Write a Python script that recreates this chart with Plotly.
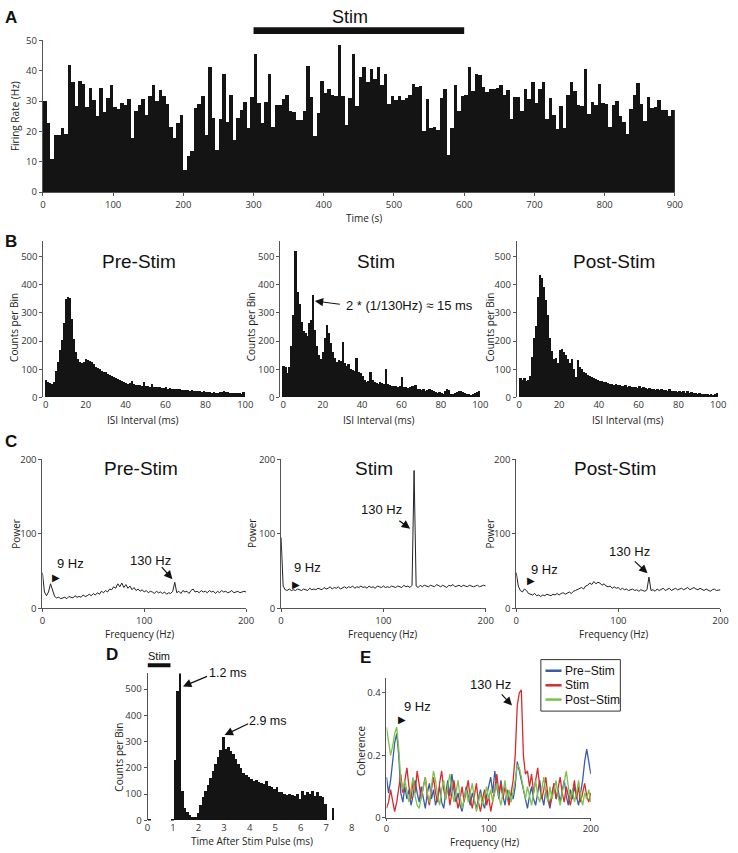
import plotly.graph_objects as go

W, H = 738, 853
def fx(px): return px / W
def fy(py): return 1 - py / H

# ---------------- DATA ----------------
# Panel A: firing rate (Hz) in 5 s bins, 0-900 s
rate_bin_s = 5
firing_rate = [
    30.0, 22.7, 10.8, 18.6, 18.6, 21.0, 19.0, 41.8, 36.0, 28.4,
    36.4, 35.4, 28.0, 34.2, 30.3, 25.0, 34.2, 26.2, 31.0, 35.1,
    27.9, 27.4, 29.2, 28.6, 30.6, 17.8, 26.5, 28.6, 30.6, 25.4,
    31.6, 35.1, 29.9, 33.4, 31.6, 28.8, 21.4, 17.6, 22.5, 25.4,
    7.1, 11.8, 13.5, 27.5, 28.8, 31.6, 18.6, 41.0, 24.3, 13.8,
    24.1, 38.9, 23.0, 32.0, 17.0, 24.3, 26.9, 29.4, 21.0, 31.2,
    45.4, 29.2, 22.5, 29.7, 38.9, 21.3, 28.6, 28.6, 30.6, 32.0,
    26.5, 26.2, 23.6, 23.6, 26.7, 41.4, 31.2, 18.5, 25.8, 36.6,
    32.4, 34.0, 31.9, 31.5, 48.3, 31.6, 22.1, 30.8, 45.4, 28.4,
    37.8, 41.0, 36.0, 40.5, 37.0, 41.0, 35.3, 38.9, 28.8, 31.6,
    30.2, 31.6, 30.2, 31.0, 32.0, 35.6, 34.5, 34.9, 20.0, 30.6,
    21.0, 21.3, 20.2, 31.0, 33.8, 12.1, 21.0, 35.1, 26.7, 31.6,
    32.0, 41.0, 33.2, 38.9, 38.3, 34.6, 32.7, 34.0, 33.8, 34.2,
    35.1, 32.0, 33.5, 23.8, 31.3, 31.3, 26.7, 33.8, 30.6, 36.2,
    29.2, 33.8, 36.2, 24.1, 30.8, 25.4, 20.8, 28.1, 21.0, 31.9,
    36.2, 33.2, 28.6, 28.4, 40.5, 25.6, 29.5, 28.6, 35.6, 29.2,
    28.8, 21.4, 28.6, 30.0, 25.0, 23.0, 19.1, 27.2, 32.0, 35.7,
    28.8, 23.2, 31.3, 27.5, 27.8, 30.2, 27.0, 27.0, 24.8, 27.0,
]

# Panel B: ISI histograms, 1 ms bins 0-100 ms
isi_pre = [
    60, 52, 50, 47, 55, 92, 125, 168, 202, 262,
    348, 355, 352, 275, 205, 160, 135, 126, 122, 124,
    136, 133, 128, 124, 118, 108, 104, 100, 94, 90,
    88, 82, 78, 76, 70, 68, 64, 60, 56, 54,
    50, 48, 50, 58, 46, 44, 42, 44, 40, 54,
    40, 38, 37, 46, 36, 35, 34, 36, 33, 32,
    34, 30, 31, 29, 30, 28, 27, 30, 26, 25,
    26, 24, 22, 24, 21, 22, 20, 22, 19, 20,
    18, 17, 19, 16, 17, 15, 16, 18, 17, 20,
    19, 17, 16, 15, 14, 15, 13, 14, 12, 18,
]
isi_stim = [
    110, 108, 85, 105, 180, 290, 518, 373, 330, 265,
    235, 228, 215, 262, 272, 360, 236, 180, 150, 135,
    160, 210, 255, 228, 190, 160, 140, 125, 132, 128,
    195, 120, 110, 118, 100, 95, 92, 138, 90, 85,
    75, 62, 55, 58, 88, 60, 55, 50, 48, 52,
    50, 45, 100, 45, 42, 40, 38, 40, 36, 38,
    72, 35, 34, 32, 36, 40, 38, 42, 30, 28,
    24, 30, 22, 26, 28, 25, 20, 18, 15, 18,
    14, 12, 22, 28, 25, 12, 10, 14, 18, 20,
    22, 18, 15, 12, 10, 9, 12, 15, 18, 22,
]
isi_post = [
    66, 62, 68, 58, 62, 75, 142, 210, 252, 355,
    432, 422, 390, 343, 290, 210, 163, 134, 140, 122,
    166, 171, 160, 150, 134, 122, 136, 100, 70, 132,
    105, 98, 90, 84, 80, 75, 72, 68, 64, 60,
    58, 56, 52, 54, 50, 48, 46, 44, 46, 42,
    44, 40, 38, 42, 36, 38, 35, 34, 36, 33,
    38, 32, 34, 31, 30, 32, 28, 30, 26, 28,
    25, 30, 24, 26, 22, 28, 21, 22, 20, 19,
    22, 18, 20, 16, 22, 15, 18, 14, 16, 12,
    13, 11, 12, 10, 12, 9, 10, 8, 10, 14,
]

# Panel C: power spectra, 0-200 Hz in 2 Hz steps
freq_c = list(range(0, 201, 2))
power_pre = [
    48, 22, 17, 22, 33, 24, 16, 14, 15, 13, 14, 15, 13, 16, 15, 14, 17, 15, 16, 15,
    18, 16, 17, 19, 17, 20, 18, 21, 19, 23, 21, 24, 22, 26, 25, 29, 27, 33, 29, 34,
    28, 32, 27, 30, 25, 28, 24, 26, 23, 25, 22, 24, 21, 23, 22, 20, 23, 21, 22, 20,
    22, 19, 21, 20, 23, 35, 21, 23, 20, 24, 22, 23, 20, 24, 26, 22, 23, 21, 24, 22,
    23, 21, 24, 22, 23, 20, 23, 21, 24, 22, 23, 21, 22, 24, 21, 22, 23, 21, 22, 23, 22,
]
power_stim = [
    95, 30, 25, 24, 26, 24, 25, 24, 26, 25, 24, 26, 25, 24, 27, 25, 26, 25, 27, 26,
    25, 28, 26, 27, 29, 26, 28, 27, 29, 26, 28, 29, 27, 29, 28, 30, 27, 29, 28, 30,
    28, 29, 27, 30, 28, 29, 27, 30, 29, 28, 30, 28, 29, 28, 30, 29, 28, 30, 29, 28,
    31, 29, 30, 28, 31, 185, 30, 28, 31, 29, 31, 30, 29, 31, 30, 29, 32, 30, 29, 31,
    30, 28, 31, 30, 32, 29, 30, 31, 29, 31, 30, 29, 31, 30, 29, 30, 31, 29, 30, 31, 30,
]
power_post = [
    48, 30, 24, 22, 26, 24, 20, 19, 18, 20, 17, 18, 16, 18, 17, 19, 18, 17, 19, 18,
    20, 18, 20, 21, 19, 21, 22, 20, 23, 24, 25, 27, 28, 26, 30, 31, 34, 32, 36, 33,
    35, 34, 31, 33, 30, 29, 30, 27, 29, 27, 28, 25, 27, 25, 26, 24, 25, 26, 24, 25,
    23, 25, 24, 23, 25, 42, 24, 25, 23, 26, 24, 25, 27, 24, 25, 27, 24, 26, 27, 25,
    26, 27, 25, 26, 28, 25, 27, 28, 26, 25, 27, 26, 24, 26, 25, 23, 25, 26, 24, 25, 25,
]

# Panel D: spike times after stim pulse, 0.1 ms bins
d_bin_ms = 0.1
counts_after_pulse = [
    3, 0, 0, 0, 0, 0, 0, 0, 0, 3,
    230, 490, 560, 110, 45, 30, 18, 12, 10, 25,
    58, 88, 112, 135, 160, 188, 215, 240, 268, 315,
    272, 280, 262, 250, 232, 215, 200, 180, 172, 165,
    155, 150, 152, 145, 142, 138, 148, 130, 125, 120,
    125, 108, 105, 100, 95, 98, 95, 92, 100, 80,
    110, 95, 108, 100, 110, 92, 108, 90, 88, 60,
    0, 0, 45, 0,
]

# Panel E: coherence, 0-200 Hz in 2 Hz steps
freq_e = list(range(0, 201, 2))
coh_pre = [
    0.13, 0.08, 0.12, 0.18, 0.24, 0.27, 0.20, 0.08, 0.05, 0.10, 0.06, 0.09, 0.04, 0.07, 0.12, 0.08, 0.05, 0.10, 0.06, 0.03,
    0.08, 0.11, 0.06, 0.09, 0.04, 0.07, 0.10, 0.05, 0.03, 0.08, 0.12, 0.07, 0.14, 0.09, 0.05, 0.08, 0.04, 0.02, 0.06, 0.10,
    0.07, 0.04, 0.08, 0.05, 0.03, 0.06, 0.09, 0.05, 0.03, 0.07, 0.10, 0.13, 0.08, 0.15, 0.10, 0.06, 0.12, 0.07, 0.04, 0.09,
    0.05, 0.08, 0.06, 0.10, 0.18, 0.15, 0.11, 0.08, 0.05, 0.03, 0.07, 0.10, 0.06, 0.04, 0.08, 0.12, 0.07, 0.04, 0.09, 0.06,
    0.03, 0.07, 0.11, 0.06, 0.09, 0.05, 0.08, 0.12, 0.07, 0.04, 0.09, 0.06, 0.10, 0.07, 0.04, 0.08, 0.12, 0.18, 0.22, 0.18, 0.14,
]
coh_stim = [
    0.03, 0.05, 0.09, 0.06, 0.02, 0.05, 0.10, 0.14, 0.08, 0.12, 0.16, 0.10, 0.06, 0.12, 0.08, 0.15, 0.11, 0.06, 0.10, 0.13,
    0.07, 0.04, 0.09, 0.13, 0.08, 0.05, 0.11, 0.15, 0.09, 0.06, 0.10, 0.04, 0.08, 0.12, 0.07, 0.03, 0.06, 0.10, 0.05, 0.08,
    0.12, 0.06, 0.03, 0.07, 0.11, 0.05, 0.02, 0.06, 0.09, 0.04, 0.07, 0.02, 0.05, 0.09, 0.14, 0.08, 0.11, 0.06, 0.10, 0.07,
    0.04, 0.08, 0.12, 0.20, 0.36, 0.40, 0.41, 0.20, 0.14, 0.15, 0.10, 0.14, 0.08, 0.12, 0.16, 0.10, 0.06, 0.09, 0.13, 0.07,
    0.04, 0.08, 0.11, 0.06, 0.09, 0.13, 0.08, 0.05, 0.10, 0.07, 0.04, 0.08, 0.12, 0.06, 0.10, 0.05, 0.08, 0.11, 0.07, 0.05, 0.08,
]
coh_post = [
    0.29, 0.25, 0.20, 0.23, 0.27, 0.29, 0.22, 0.12, 0.09, 0.12, 0.08, 0.05, 0.09, 0.13, 0.07, 0.04, 0.03, 0.06, 0.10, 0.13,
    0.08, 0.05, 0.10, 0.15, 0.12, 0.07, 0.04, 0.09, 0.12, 0.06, 0.10, 0.14, 0.09, 0.05, 0.08, 0.12, 0.07, 0.03, 0.06, 0.09,
    0.05, 0.08, 0.11, 0.06, 0.02, 0.05, 0.08, 0.04, 0.07, 0.10, 0.06, 0.09, 0.05, 0.08, 0.11, 0.07, 0.04, 0.08, 0.12, 0.06,
    0.09, 0.05, 0.08, 0.12, 0.17, 0.16, 0.13, 0.09, 0.06, 0.10, 0.07, 0.04, 0.08, 0.12, 0.07, 0.05, 0.09, 0.13, 0.08, 0.05,
    0.10, 0.06, 0.09, 0.12, 0.07, 0.04, 0.08, 0.11, 0.15, 0.10, 0.06, 0.09, 0.05, 0.08, 0.12, 0.07, 0.04, 0.08, 0.06, 0.09, 0.05,
]
coh_names = ["Pre\u2212Stim", "Stim", "Post\u2212Stim"]
coh_colors = ["#3b5ca8", "#d92b2b", "#7cc24c"]
panel_titles = ["Pre-Stim", "Stim", "Post-Stim"]

# ---------------- FIGURE ----------------
TXT = "Liberation Sans"
NUM = "Open Sans"
BAR = "#141414"
AXC = "#555555"
fig = go.Figure()

def sfx(i):
    return "" if i == 1 else str(i)

def bars(i, x, y, w):
    fig.add_trace(go.Bar(x=x, y=y, width=w, marker=dict(color=BAR, line=dict(width=0)),
                         xaxis="x" + sfx(i), yaxis="y" + sfx(i), showlegend=False, hoverinfo="skip"))

def line(i, x, y, color, width=1.0, name=None):
    fig.add_trace(go.Scatter(x=x, y=y, mode="lines", line=dict(color=color, width=width),
                             name=name, xaxis="x" + sfx(i), yaxis="y" + sfx(i), showlegend=False, hoverinfo="skip"))

# A
bars(1, [rate_bin_s * k + rate_bin_s / 2 for k in range(len(firing_rate))], firing_rate, rate_bin_s)
# B
for j, h in enumerate([isi_pre, isi_stim, isi_post]):
    bars(2 + j, [k + 0.5 for k in range(len(h))], h, 1)
# C
for j, p in enumerate([power_pre, power_stim, power_post]):
    line(5 + j, freq_c, p, "#222222", 1.0)
# D
bars(8, [d_bin_ms * k + d_bin_ms / 2 for k in range(len(counts_after_pulse))], counts_after_pulse, d_bin_ms)
# E
for c, nm, col in zip([coh_pre, coh_stim, coh_post], coh_names, coh_colors):
    line(9, freq_e, c, col, 1.3, nm)

tickfont = dict(family=NUM, size=9.5, color="#333333")

def xax(dom, rng, tv, showline=True, ticks="outside", anchor="y", tt=None, ticklen=3):
    d = dict(domain=[fx(dom[0]), fx(dom[1])], range=rng, tickvals=tv, showgrid=False, zeroline=False,
             showline=showline, linecolor=AXC, linewidth=1, ticks=ticks, ticklen=ticklen, tickcolor=AXC,
             tickfont=tickfont, anchor=anchor, fixedrange=True)
    if tt is not None:
        d["ticktext"] = tt
    return d

def yax(dom, rng, tv, anchor="x", tt=None):
    d = dict(domain=[fy(dom[1]), fy(dom[0])], range=rng, tickvals=tv, showgrid=False, zeroline=False,
             showline=True, linecolor=AXC, linewidth=1, ticks="outside", ticklen=3, tickcolor=AXC,
             tickfont=tickfont, anchor=anchor, fixedrange=True)
    if tt is not None:
        d["ticktext"] = tt
    return d

lay = {}
lay["xaxis"] = xax([40.5, 682], [0, 900], list(range(0, 901, 100)), anchor="y")
lay["yaxis"] = yax([34, 188], [0, 50], list(range(0, 51, 10)), anchor="x")
b_dom = [[41, 247], [281.5, 485.5], [521.5, 727]]
b_rng = [[-1.2, 100.5], [-1.5, 100.5], [-1.3, 100.5]]
for j in range(3):
    i = 2 + j
    lay["xaxis" + sfx(i)] = xax(b_dom[j], b_rng[j], list(range(0, 101, 20)), showline=False, ticks="", anchor="y" + sfx(i))
    lay["yaxis" + sfx(i)] = yax([238, 396.5], [0, 553], list(range(0, 501, 100)), anchor="x" + sfx(i))
c_dom = [[40, 246.7], [282.3, 490], [521, 728.3]]
for j in range(3):
    i = 5 + j
    lay["xaxis" + sfx(i)] = xax(c_dom[j], [0, 200], [0, 100, 200], anchor="y" + sfx(i))
    lay["yaxis" + sfx(i)] = yax([459.3, 610.7], [0, 200], [0, 100, 200], anchor="x" + sfx(i))
lay["xaxis8"] = xax([146.7, 354], [0, 8], list(range(0, 9)), showline=False, ticks="", anchor="y8")
lay["yaxis8"] = yax([676.7, 826], [0, 560], list(range(0, 501, 100)), anchor="x8")
lay["xaxis9"] = xax([389.3, 596.7], [0, 200], [0, 100, 200], anchor="y9", ticklen=2)
lay["yaxis9"] = yax([681.7, 823.3], [0, 0.447], [0, 0.2, 0.4], anchor="x9", tt=["0", "0.2", "0.4"])

anns = []
def ann(text, px, py, size=10, family=NUM, angle=0, xanchor="center", color="#222222"):
    anns.append(dict(text=text, x=fx(px), y=fy(py), xref="paper", yref="paper", showarrow=False,
                     xanchor=xanchor, yanchor="middle", textangle=angle,
                     font=dict(family=family, size=size, color=color)))

def arrow(tail, head):
    anns.append(dict(text="", x=fx(head[0]), y=fy(head[1]), xref="paper", yref="paper",
                     ax=tail[0] - head[0], ay=tail[1] - head[1], showarrow=True,
                     arrowhead=2, arrowsize=1.4, arrowwidth=1.2, arrowcolor="#111111", standoff=0))

def tri(px, py):
    ann("\u25B6", px, py, size=10, family="DejaVu Sans", color="#111111")

# panel letters
for L, px, py in [("A", 8, 11), ("B", 8, 238), ("C", 8, 441), ("D", 111, 658), ("E", 368, 661)]:
    ann("<b>%s</b>" % L, px, py, size=17, family=TXT, color="#111111")

# A texts
ann("Stim", 352, 10, size=18, family=TXT, color="#111111")
ann("Firing Rate (Hz)", 13, 111, size=10, angle=-90)
ann("Time (s)", 366, 214, size=10)

# B texts
b_title_x = [138.3, 378.3, 620]
b_xlab_x = [142, 382, 634]
b_ylab_x = [11, 252, 494]
for j in range(3):
    ann(panel_titles[j], b_title_x[j], 258, size=19, family=TXT, color="#111111")
    ann("ISI Interval (ms)", b_xlab_x[j], 419, size=10)
    ann("Counts per Bin", b_ylab_x[j], 325, size=10, angle=-90)
ann("2 * (1/130Hz) \u2248 15 ms", 346.5, 303, size=13, family=TXT, xanchor="left", color="#111111")
arrow((343, 302), (316.5, 298.5))

# C texts
c_title_x = [140, 376.7, 621.7]
c_xlab_x = [138.3, 385, 620]
c_ylab_x = [13, 253, 494]
for j in range(3):
    ann(panel_titles[j], c_title_x[j], 468.3, size=19, family=TXT, color="#111111")
    ann("Frequency (Hz)", c_xlab_x[j], 637, size=10)
    ann("Power", c_ylab_x[j], 535, size=10, angle=-90)
ann("9 Hz", 69, 565, size=13, family=TXT, color="#111111")
tri(54, 579)
ann("130 Hz", 149.7, 561.7, size=13, family=TXT, color="#111111")
arrow((160, 567.5), (172, 581))
ann("9 Hz", 309, 569.3, size=13, family=TXT, color="#111111")
tri(297.5, 586.3)
ann("130 Hz", 384.5, 510, size=13, family=TXT, color="#111111")
arrow((401, 520.7), (413.3, 529.8))
ann("9 Hz", 550, 570.7, size=13, family=TXT, color="#111111")
tri(535.5, 582)
ann("130 Hz", 635.5, 552.7, size=13, family=TXT, color="#111111")
arrow((640, 561.7), (654.3, 575))

# D texts
ann("Stim", 158.3, 659, size=11, family=TXT, color="#111111")
ann("1.2 ms", 228, 676.7, size=12.5, family=TXT, color="#111111")
arrow((208.3, 679.3), (182.7, 690))
ann("2.9 ms", 269, 725, size=12.5, family=TXT, color="#111111")
arrow((250, 727.3), (225, 739.3))
ann("Counts per Bin", 118, 762, size=10, angle=-90)
ann("Time After Stim Pulse (ms)", 253, 846.5, size=10)

# E texts
ann("9 Hz", 421, 710, size=13, family=TXT, color="#111111")
tri(405.5, 723.3)
ann("130 Hz", 494.5, 688.3, size=13, family=TXT, color="#111111")
arrow((505, 696.7), (516.7, 709.3))
ann("Coherence", 364, 755, size=10, angle=-90)
ann("Frequency (Hz)", 489, 848, size=10)

shapes = []
# Stim bar in A (data x)
shapes.append(dict(type="rect", xref="x", yref="paper", x0=300, x1=600, y0=fy(27.5), y1=fy(20.5),
                   fillcolor="#111111", line=dict(width=0)))
# Stim bar in D
shapes.append(dict(type="rect", xref="x8", yref="paper", x0=0, x1=0.9, y0=fy(670.5), y1=fy(666.5),
                   fillcolor="#111111", line=dict(width=0)))
# Legend for E
shapes.append(dict(type="rect", xref="paper", yref="paper", x0=fx(546), x1=fx(626.7), y0=fy(715), y1=fy(662.7),
                   fillcolor="white", line=dict(color="#333333", width=1)))
for k, (nm, col) in enumerate(zip(coh_names, coh_colors)):
    yy = [674, 688.8, 703.3][k]
    shapes.append(dict(type="line", xref="paper", yref="paper", x0=fx(550.7), x1=fx(567), y0=fy(yy), y1=fy(yy),
                       line=dict(color=col, width=2.5)))
    ann(nm, 568.5, yy, size=12, family=TXT, xanchor="left", color="#111111")

fig.update_layout(width=W, height=H, margin=dict(l=0, r=0, t=0, b=0),
                  paper_bgcolor="white", plot_bgcolor="white", bargap=0,
                  showlegend=False, annotations=anns, shapes=shapes, **lay)

fig.write_html("out.html", config={"displayModeBar": False},
               post_script="document.body.style.margin='0';document.body.style.overflow='hidden';")
